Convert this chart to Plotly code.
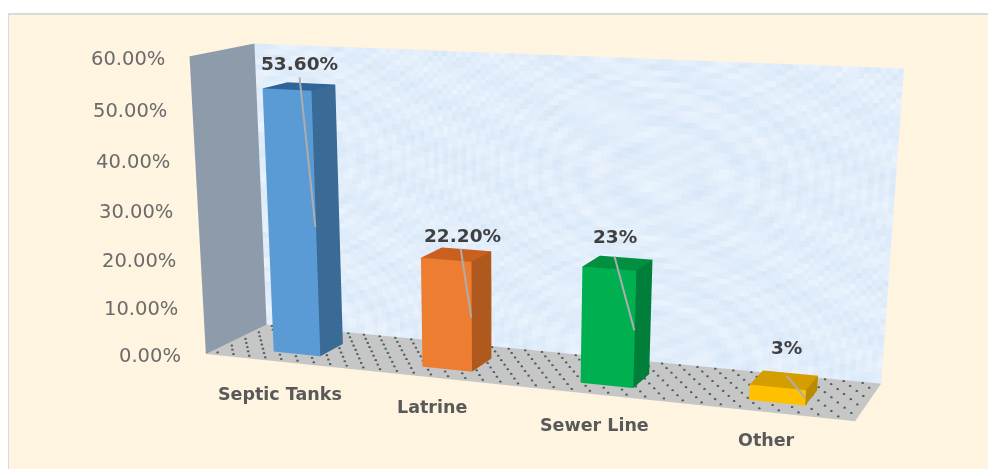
import numpy as np
import plotly.graph_objects as go

W, H = 980, 461
categories = ["Septic Tanks", "Latrine", "Sewer Line", "Other"]
values = [0.536, 0.222, 0.23, 0.03]
value_labels = ["53.60%", "22.20%", "23%", "3%"]
z_ticks = [0, 0.1, 0.2, 0.3, 0.4, 0.5, 0.6]
z_tick_labels = ["0.00%", "10.00%", "20.00%", "30.00%", "40.00%", "50.00%", "60.00%"]
front_colors = ["#5B9BD5", "#ED7D31", "#00B050", "#FFC000"]
side_colors = ["#3A6A96", "#B0591F", "#007F3A", "#B98C00"]
top_colors = ["#2F6498", "#C9601F", "#00903F", "#D49E00"]

# camera and skew of the drawing box, fitted to the reference's perspective
EYE = (0.08653, -1.71987, 0.11747)
CENTER = (-0.11060, -0.02539, -0.05742)
UP = (0.00971, 0.00014, 1.0)
BOX_DEPTH, BOX_HEIGHT = 0.13629, 0.94786
SKEW_XY, SKEW_ZY, SKEW_ZX = 0.06867, 0.07092, -0.133

def S(x, y, z):
    return (x + SKEW_XY*y, BOX_DEPTH*y/2, BOX_HEIGHT*(z + SKEW_ZY*y + SKEW_ZX*x)/2)
def nx(cat):
    return (cat + 0.5)/2 - 1 + 0.012
def nz(v):
    return v/0.6*2 - 1

def mesh(quads, colors, **kw):
    vs, i, j, k, fc = [], [], [], [], []
    for q, col in zip(quads, colors):
        b = len(vs)
        vs += [S(*pt) for pt in q]
        i += [b, b]; j += [b+1, b+2]; k += [b+2, b+3]; fc += [col, col]
    vs = np.array(vs)
    return go.Mesh3d(x=vs[:,0], y=vs[:,1], z=vs[:,2], i=i, j=j, k=k, facecolor=fc, flatshading=True,
                     lighting=dict(ambient=1, diffuse=0, specular=0, fresnel=0, roughness=1),
                     hoverinfo="skip", showscale=False, **kw)

fig = go.Figure()
fig.add_trace(mesh([[(-1,-1,-1),(-1,1,-1),(1,1,-1),(1,-1,-1)]], ["#C6C6C6"]))
# mottled back wall
wall_q, wall_c = [], []
nu, nv = 130, 56
for a in range(nu):
    for b in range(nv):
        u0, u1 = -1 + 2*a/nu, -1 + 2*(a+1)/nu
        v0, v1 = -1 + 2*b/nv, -1 + 2*(b+1)/nv
        wall_q.append([(u0,1,v0),(u1,1,v0),(u1,1,v1),(u0,1,v1)])
        t = (0.5 + 0.18*np.sin(a*a*0.037 + b*b*0.091) + 0.17*np.sin(a*0.83 - b*1.91 + 1.0)
             + 0.15*np.sin(a*0.29 + b*0.67))
        wall_c.append("rgb(%d,%d,%d)" % (216 + 20*t, 231 + 14*t, 248 + 6*t))
fig.add_trace(mesh(wall_q, wall_c))
fig.add_trace(mesh([[(-1,-1,-1),(-1,1,-1),(-1,1,1),(-1,-1,1)]], ["#8E9BAB"]))

# floor dots
dx, dy, dz = [], [], []
for r_i, yy in enumerate(np.linspace(-0.9, 0.9, 9)):
    for xx in np.linspace(-0.97, 0.95, 36):
        xv = xx + (0.027 if r_i % 2 else 0)
        v = S(xv, yy, -0.995)
        dx.append(v[0]); dy.append(v[1]); dz.append(v[2])
fig.add_trace(go.Scatter3d(x=dx, y=dy, z=dz, mode="markers", hoverinfo="skip",
                           marker=dict(size=1.5, color="#4A625C", line=dict(width=0))))

bw = 0.16
y0_b, y1_b = -0.5, 0.3
leader_start = [0.78, 0.8, 0.6, 0.65]
for idx, v in enumerate(values):
    x0, x1 = nx(idx) - bw/2, nx(idx) + bw/2
    zb, zt = -1, nz(v)
    quads = [[(x0,y0_b,zb),(x1,y0_b,zb),(x1,y0_b,zt),(x0,y0_b,zt)],
             [(x1,y0_b,zb),(x1,y1_b,zb),(x1,y1_b,zt),(x1,y0_b,zt)],
             [(x0,y0_b,zt),(x1,y0_b,zt),(x1,y1_b,zt),(x0,y1_b,zt)]]
    fig.add_trace(mesh(quads, [front_colors[idx], side_colors[idx], top_colors[idx]]))
    a = S(x0 + (x1-x0)*leader_start[idx], y0_b-0.02, nz(v + 0.025))
    b = S(x1, y0_b-0.02, nz(v*0.5))
    fig.add_trace(go.Scatter3d(x=[a[0],b[0]], y=[a[1],b[1]], z=[a[2],b[2]], mode="lines",
                               hoverinfo="skip", line=dict(color="#ADADAD", width=4)))

cat_dy = [-32, -29, -31, -28]
cat_dx = [-2, -2, -2, -2]
val_dx = [-3, 4, -5, 1]
val_dy = [10, 5, 13, 18]
ann = []
for t, lab in zip(z_ticks, z_tick_labels):
    s = S(-1, -1, nz(t))
    ann.append(dict(x=s[0], y=s[1], z=s[2], text=lab, showarrow=False, xanchor="right", yanchor="middle",
                    xshift=-23, yshift=-2, font=dict(family="DejaVu Sans", size=19.5, color="#6B6B6B")))
for idx, lab in enumerate(categories):
    s = S(nx(idx), -1, -1)
    ann.append(dict(x=s[0], y=s[1], z=s[2], text=lab, showarrow=False, xanchor="center", yanchor="middle",
                    xshift=cat_dx[idx], yshift=cat_dy[idx],
                    font=dict(family="DejaVu Sans", size=17.5, color="#595959", weight="bold")))
for idx, lab in enumerate(value_labels):
    s = S(nx(idx), 0, nz(values[idx]))
    ann.append(dict(x=s[0], y=s[1], z=s[2], text=lab, showarrow=False, xanchor="center", yanchor="bottom",
                    xshift=val_dx[idx], yshift=val_dy[idx],
                    font=dict(family="DejaVu Sans", size=18.5, color="#404040", weight="bold")))

hidden = dict(visible=False, range=[-2, 2], showgrid=False, zeroline=False, showspikes=False)
fig.update_layout(
    width=W, height=H, margin=dict(l=0, r=0, t=0, b=0), paper_bgcolor="white", showlegend=False,
    shapes=[dict(type="rect", xref="paper", yref="paper", x0=0, x1=1.02, y0=-0.02, y1=1-6/H,
                 fillcolor="#FEF4E0", line=dict(color="#DADADA", width=2), layer="below")],
    scene=dict(domain=dict(x=[0,1], y=[0,1]), bgcolor="rgba(0,0,0,0)",
               xaxis=hidden, yaxis=hidden, zaxis=hidden,
               aspectmode="manual", aspectratio=dict(x=4, y=4, z=4),
               camera=dict(eye=dict(x=EYE[0],y=EYE[1],z=EYE[2]), center=dict(x=CENTER[0],y=CENTER[1],z=CENTER[2]),
                           up=dict(x=UP[0],y=UP[1],z=UP[2]), projection=dict(type="perspective")),
               annotations=ann),
)
fig.write_html("out.html",
               post_script="var d=document.getElementById('{plot_id}');d.style.width='980px';d.style.height='461px';document.body.style.width='980px';document.body.style.height='461px';document.documentElement.style.overflow='hidden';")
